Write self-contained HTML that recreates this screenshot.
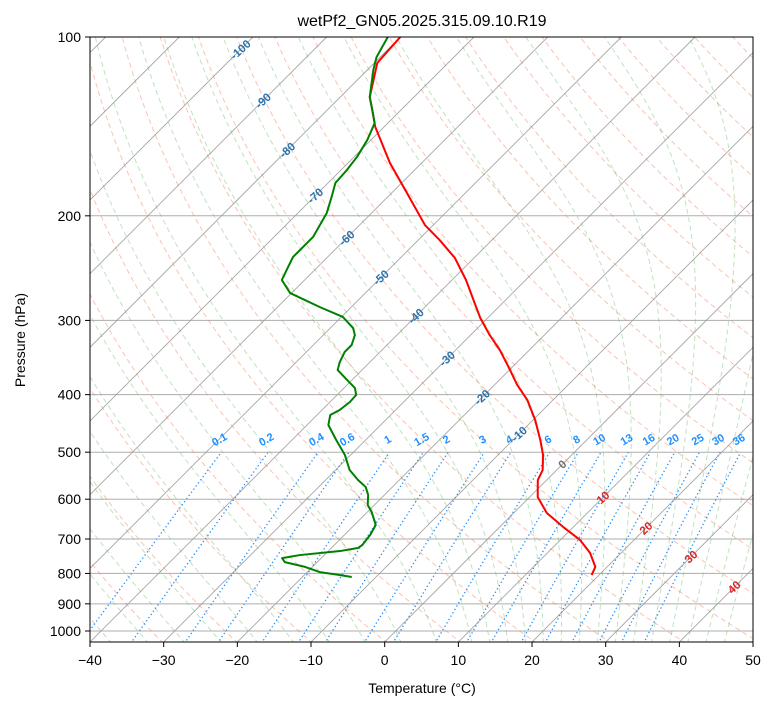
<!DOCTYPE html>
<html><head><meta charset="utf-8">
<style>
html,body{margin:0;padding:0;background:#fff;}
svg{display:block;font-family:"Liberation Sans","DejaVu Sans",sans-serif;}
</style></head>
<body>
<svg id="chart" width="775" height="708" viewBox="0 0 775 708" xmlns="http://www.w3.org/2000/svg">
  <defs><clipPath id="plotclip"><rect x="90" y="37" width="663" height="605"/></clipPath></defs>
  <rect x="0" y="0" width="775" height="708" fill="#fff"/>
  <text x="422" y="26" font-size="16" text-anchor="middle" fill="#000">wetPf2_GN05.2025.315.09.10.R19</text>
  <g id="bg" clip-path="url(#plotclip)"></g>
  <g id="series" clip-path="url(#plotclip)"></g>
  <g id="labels"></g>
  <rect x="90" y="37" width="663" height="605" fill="none" stroke="#000" stroke-width="1"/>
  <g id="axes"></g>
  <text x="422" y="693" font-size="14" text-anchor="middle">Temperature (°C)</text>
  <text x="25" y="340" font-size="14" text-anchor="middle" transform="rotate(-90 25 340)">Pressure (hPa)</text>
</svg>
<script>
// ---- data ----
const tempP = [100,110.6,126.2,132.7,141.7,163,184.5,207.4,219.7,235.5,256.5,279.3,297.2,317.6,336.5,363.6,385.3,408.3,441.4,476.9,505.3,535.8,557,595,633,668,703,739,780,805];
const tempT = [-80.0,-79.6,-76.0,-73.9,-71.2,-64.3,-57.5,-51.1,-47.1,-42.6,-38.1,-34.0,-31.0,-27.4,-24.0,-19.9,-16.9,-13.5,-9.7,-6.3,-3.9,-1.9,-1.2,1.1,4.5,8.6,12.7,15.8,18.4,19.0];
const dewP = [100,108.1,113.6,126.2,132.7,139.6,149.1,159.2,167.4,176.1,186,197.8,217.1,234.6,246.8,256.5,269.8,284.8,296,309,317.6,330,339,352.5,363.6,375,390,400.6,411.6,424.6,432.9,450,476.9,505.3,535.8,557,572.4,590.2,613.6,630.6,663,689,716.6,725,733.5,745,754,765.6,780,795.8,805,811];
const dewT = [-81.7,-80.5,-79.2,-76.0,-73.9,-71.8,-70.5,-69.6,-69.2,-69.0,-67.6,-66.1,-64.7,-64.7,-63.8,-63.1,-60.2,-54.3,-49.8,-46.9,-45.7,-44.8,-44.8,-44.1,-43.3,-41.2,-38.5,-37.4,-37.3,-37.6,-38.2,-37.1,-34.0,-30.8,-28.1,-25.6,-23.6,-22.2,-20.9,-19.4,-17.1,-16.5,-16.2,-16.4,-18.4,-23.3,-25.3,-24.4,-21.0,-18.3,-15.2,-13.3];
const xTicks = [-40,-30,-20,-10,0,10,20,30,40,50];
const pTicks = [100,200,300,400,500,600,700,800,900,1000];
const mixVals = [0.1,0.2,0.4,0.6,1,1.5,2,3,4,6,8,10,13,16,20,25,30,36];
const mixLabels = ["0.1","0.2","0.4","0.6","1","1.5","2","3","4","6","8","10","13","16","20","25","30","36"];
const isoLabelT = [-100,-90,-80,-70,-60,-50,-40,-30,-20,-10,0,10,20,30,40];
const isoLabelP = [105,128,155,185,218,254,295,348,404,466,524,596,671,750,844];

// ---- axis functions ----
const X0=90,Y0=37,YB=642,PXC=7.367,DEC=594;
function yOf(p){return Y0+DEC*Math.log10(p/100);}
function xOf(T,p){const y=yOf(p);return X0+(T+40)*PXC+(YB-y);}
const NS="http://www.w3.org/2000/svg";
function mk(tag,attrs,parent){const e=document.createElementNS(NS,tag);for(const k in attrs)e.setAttribute(k,attrs[k]);parent.appendChild(e);return e;}
function pathFrom(ps,Ts){let d="";for(let i=0;i<ps.length;i++){d+=(i?"L":"M")+xOf(Ts[i],ps[i]).toFixed(2)+","+yOf(ps[i]).toFixed(2);}return d;}
const bg=document.getElementById('bg'),series=document.getElementById('series'),labels=document.getElementById('labels'),axes=document.getElementById('axes');
const pGrid=[];for(let p=1050;p>=99;p-=5)pGrid.push(p);

// dry adiabats
for(let th=200;th<=520;th+=10){
  const Ts=pGrid.map(p=>th*Math.pow(p/1000,0.2857)-273.15);
  const e=mk('path',{d:pathFrom(pGrid,Ts),fill:'none',stroke:'#f26a3d','stroke-opacity':'0.4','stroke-width':'1','stroke-dasharray':'5,3.5'},bg);
  
  
}
// moist adiabats
function es(Tc){return 6.112*Math.exp(17.67*Tc/(Tc+243.5));}
function dTdlnp(TK,p){const Tc=TK-273.15;const e=es(Tc);const rs=0.622*e/Math.max(p-e,1);const Rd=287.04,Cp=1005.7,Lv=2.501e6;return (Rd*TK+Lv*rs)/(Cp+Lv*Lv*rs*0.622/(Rd*TK*TK));}
const moistStarts=[];for(let t=-50;t<=10.01;t+=5)moistStarts.push(t);for(let t=12.5;t<=45.01;t+=2.5)moistStarts.push(t);
moistStarts.forEach(t0=>{
  const ps=[],Ts=[];let TK=t0+273.15;
  // integrate from 1000 down to 1050 first
  let pp=1000,Tb=TK;const n=50;
  for(let i=0;i<n;i++){const dl=Math.log(1050/1000)/n;const k1=dTdlnp(Tb,pp);const pm=pp*Math.exp(dl/2);const k2=dTdlnp(Tb+k1*dl/2,pm);Tb+=k2*dl;pp*=Math.exp(dl);}
  TK=Tb;let p=1050;ps.push(p);Ts.push(TK-273.15);
  const steps=300;const dl=Math.log(100/1050)/steps;
  for(let i=0;i<steps;i++){const k1=dTdlnp(TK,p);const pm=p*Math.exp(dl/2);const k2=dTdlnp(TK+k1*dl/2,pm);TK+=k2*dl;p*=Math.exp(dl);ps.push(p);Ts.push(TK-273.15);}
  const e=mk('path',{d:pathFrom(ps,Ts),fill:'none',stroke:'#2ca02c','stroke-opacity':'0.3','stroke-width':'1','stroke-dasharray':'5,3.5'},bg);
  
  
});
// mixing ratio lines
function tdFromW(w,p){const e=w*p/(622+w);const l=Math.log(e/6.112);return 243.5*l/(17.67-l);}
const pMix=[];for(let p=1050;p>=500;p-=10)pMix.push(p);
mixVals.forEach((w,i)=>{
  const Ts=pMix.map(p=>tdFromW(w,p));
  const e=mk('path',{d:pathFrom(pMix,Ts),fill:'none',stroke:'#1e90ff','stroke-width':'1.3','stroke-dasharray':'1.3,2.6'},bg);
  
  
  const lp=480,lx=xOf(tdFromW(w,500),500),ly=yOf(lp)+1;
  const t=mk('text',{x:lx.toFixed(1),y:ly.toFixed(1),'font-size':'11','font-weight':'bold',fill:'#1e90ff','text-anchor':'middle',transform:`rotate(-30 ${lx.toFixed(1)} ${ly.toFixed(1)})`},labels);
  t.textContent=mixLabels[i];
  
  
});
// isotherms
for(let T=-170;T<=50;T+=10){
  const e=mk('path',{d:pathFrom([1050,100],[T,T]),fill:'none',stroke:'#888','stroke-opacity':'0.75','stroke-width':'0.9'},bg);
  
  
}
// isobars
pTicks.forEach(p=>{
  const y=yOf(p);
  const e=mk('line',{x1:X0,x2:753,y1:y,y2:y,stroke:'#999','stroke-opacity':'0.8','stroke-width':'1'},bg);
  
  
});
// profiles
const tl=mk('path',{d:pathFrom(tempP,tempT),fill:'none',stroke:'#ff0000','stroke-width':'2','stroke-linejoin':'round'},series);


const dl=mk('path',{d:pathFrom(dewP,dewT),fill:'none',stroke:'#008000','stroke-width':'2','stroke-linejoin':'round'},series);


// isotherm labels
isoLabelT.forEach((T,i)=>{
  const p=isoLabelP[i],x=xOf(T,p),y=yOf(p);
  const col=T<0?'#2a74b0':(T===0?'#707070':'#d62728');
  const t=mk('text',{x:x.toFixed(1),y:(y+4).toFixed(1),'font-size':'11.5','font-weight':'bold',fill:col,'text-anchor':'middle',transform:`rotate(-42 ${x.toFixed(1)} ${y.toFixed(1)})`},labels);
  t.textContent=String(T);
  
  
});
// axes ticks
xTicks.forEach(T=>{
  const x=X0+(T+40)*PXC;
  const l=mk('line',{x1:x,x2:x,y1:642,y2:647,stroke:'#000','stroke-width':'1'},axes);
  
  
  const t=mk('text',{x:x,y:665,'font-size':'14','text-anchor':'middle'},axes);
  t.textContent=T<0?'\u2212'+Math.abs(T):String(T);
  
  
});
pTicks.forEach(p=>{
  const y=yOf(p);
  const l=mk('line',{x1:85,x2:90,y1:y,y2:y,stroke:'#000','stroke-width':'1'},axes);
  
  
  const t=mk('text',{x:81,y:y+5,'font-size':'14','text-anchor':'end'},axes);
  t.textContent=String(p);
  
  
});
</script>
</body></html>
